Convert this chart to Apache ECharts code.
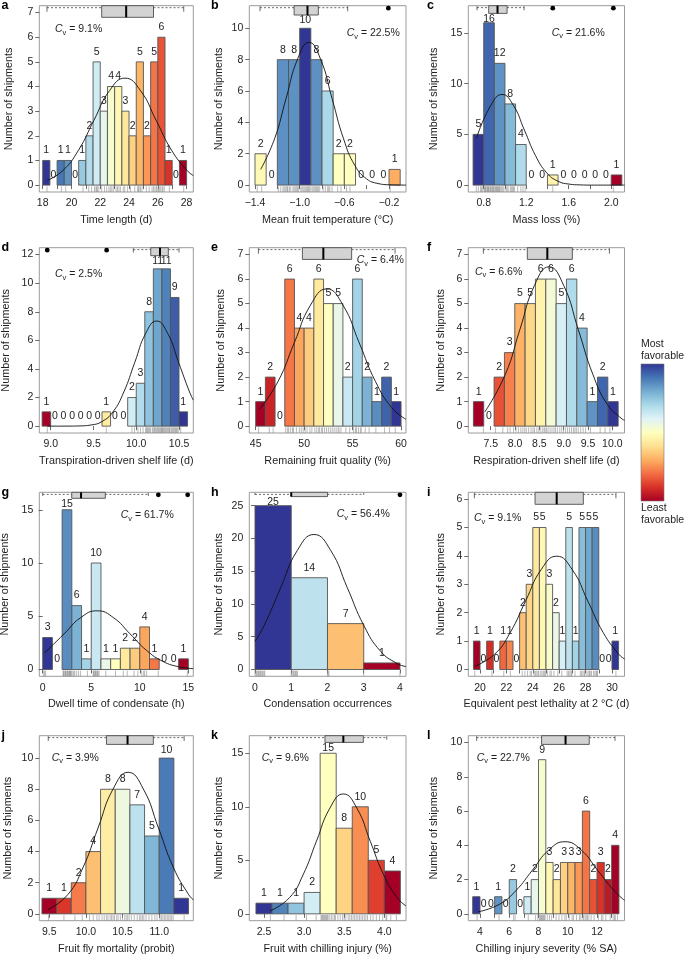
<!DOCTYPE html>
<html><head><meta charset="utf-8">
<script src="https://cdn.jsdelivr.net/npm/echarts@6/dist/echarts.min.js"></script>
<style>html,body{margin:0;padding:0;background:#fff}#c{width:685px;height:956px}</style>
</head><body><div id="c"></div>
<script>
// ---------------- DATA ----------------
// a: Time length (d)
const a_start = 18, a_binWidth = 0.5;
const a_counts = [1,0,1,1,0,1,2,5,3,4,4,3,2,5,2,5,6,1,0,1];
const a_curve = [[18.32,0.19],[19.40,0.59],[20.48,1.41],[21.56,2.63],[22.64,3.83],[23.72,4.34],[24.80,3.83],[25.88,2.63],[26.96,1.41],[28.04,0.59],[28.46,0.39]];
const a_box = [18.3,22.1,23.8,25.7,27.8];
const a_outliers = [];
const a_rug = [18.3,19.3,19.6,20.8,21.2,21.4,21.6,21.7,21.75,21.8,21.9,22.1,22.3,22.45,22.6,22.7,22.8,22.9,23.1,23.2,23.3,23.4,23.6,23.7,23.9,24.1,24.4,24.6,24.65,24.7,24.8,24.9,25.2,25.4,25.6,25.7,25.8,25.9,25.95,26.05,26.1,26.2,26.3,26.35,26.45,26.8,27.8];
const a_xticks = [18,19,20,21,22,23,24,25,26,27,28];
const a_xlabels = [18,20,22,24,26,28];
const a_yticks = [0,1,2,3,4,5,6,7];
const a_cv = '9.1%';
const a_title = 'Time length (d)';

// b: Mean fruit temperature
const b_start = -1.4, b_binWidth = 0.1;
const b_counts = [2,0,8,8,10,8,6,2,2,0,0,0,1];
const b_curve = [[-1.349,1.00],[-1.225,2.95],[-1.122,5.52],[-1.019,8.03],[-0.916,9.10],[-0.813,8.03],[-0.710,5.52],[-0.607,2.95],[-0.504,1.23],[-0.401,0.40],[-0.298,0.10],[-0.195,0.02],[-0.048,0.0]];
const b_box = [-1.355,-1.05,-0.93,-0.833,-0.57];
const b_outliers = [-0.206];
const b_rug = [-1.38,-1.34,-1.19,-1.17,-1.15,-1.14,-1.13,-1.12,-1.11,-1.105,-1.09,-1.08,-1.06,-1.05,-1.04,-1.03,-1.02,-1.01,-0.99,-0.98,-0.97,-0.96,-0.95,-0.94,-0.93,-0.92,-0.915,-0.905,-0.89,-0.88,-0.87,-0.86,-0.85,-0.84,-0.83,-0.82,-0.79,-0.77,-0.75,-0.74,-0.73,-0.71,-0.66,-0.63,-0.58,-0.55,-0.19];
const b_xticks = [-1.4,-1.2,-1.0,-0.8,-0.6,-0.4,-0.2];
const b_xlabels = [-1.4,-1.0,-0.6,-0.2];
const b_yticks = [0,2,4,6,8,10];
const b_cv = '22.5%';
const b_title = 'Mean fruit temperature (°C)';

// c: Mass loss
const c_start = 0.7, c_binWidth = 0.1;
const c_counts = [5,16,12,8,4,0,0,1,0,0,0,0,0,1];
const c_curve = [[0.731,4.60],[0.868,7.88],[0.973,8.93],[1.078,7.88],[1.183,5.42],[1.288,2.90],[1.393,1.21],[1.498,0.39],[1.603,0.10],[1.708,0.02],[1.813,0.0],[2.125,0.0]];
const c_box = [0.737,0.847,0.93,1.02,1.18];
const c_outliers = [1.45,2.02];
const c_rug = [0.73,0.75,0.77,0.78,0.79,0.805,0.81,0.815,0.82,0.83,0.835,0.84,0.845,0.85,0.86,0.865,0.87,0.88,0.885,0.89,0.895,0.905,0.91,0.92,0.925,0.93,0.94,0.945,0.95,0.96,0.97,0.98,0.99,1.01,1.02,1.03,1.05,1.06,1.07,1.08,1.09,1.12,1.15,1.17,1.19,1.45,2.02];
const c_xticks = [0.8,1.0,1.2,1.4,1.6,1.8,2.0];
const c_xlabels = [0.8,1.2,1.6,2.0];
const c_yticks = [0,5,10,15];
const c_cv = '21.6%';
const c_title = 'Mass loss (%)';

// d: Transpiration-driven shelf life
const d_start = 8.9, d_binWidth = 0.1;
const d_counts = [1,0,0,0,0,0,0,1,0,0,2,3,8,11,11,9,1];
const d_curve = [[8.96,0],[9.215,0.002],[9.343,0.016],[9.471,0.08],[9.599,0.32],[9.727,0.99],[9.855,2.39],[9.983,4.46],[10.111,6.49],[10.239,7.35],[10.367,6.49],[10.495,4.46],[10.623,2.39],[10.667,1.82]];
const d_box = [9.966,10.17,10.278,10.375,10.5];
const d_outliers = [8.96,9.654];
const d_rug = [8.96,9.65,9.95,9.98,10.02,10.05,10.08,10.11,10.12,10.13,10.14,10.15,10.16,10.17,10.19,10.205,10.21,10.22,10.23,10.24,10.25,10.26,10.27,10.28,10.29,10.295,10.305,10.31,10.32,10.33,10.34,10.35,10.36,10.37,10.38,10.39,10.395,10.41,10.42,10.43,10.44,10.45,10.46,10.47,10.48,10.49,10.52];
const d_xticks = [9.0,9.5,10.0,10.5];
const d_xlabels = [9.0,9.5,10.0,10.5];
const d_yticks = [0,2,4,6,8,10,12];
const d_cv = '2.5%';
const d_title = 'Transpiration-driven shelf life (d)';

// e: Remaining fruit quality
const e_start = 45, e_binWidth = 1;
const e_counts = [1,2,0,6,4,4,6,5,5,2,6,2,1,2,1];
const e_curve = [[45.38,0.68],[47.30,1.82],[48.98,3.40],[50.66,4.94],[52.33,5.60],[54.00,4.94],[55.68,3.40],[57.36,1.82],[59.03,0.76],[60.5,0.28]];
const e_box = [45.28,49.82,51.98,54.9,59.38];
const e_outliers = [];
const e_rug = [45.3,46.4,46.8,48.1,48.3,48.4,48.6,48.8,48.9,49.2,49.5,49.7,49.9,50.1,50.3,50.6,50.8,51.1,51.3,51.5,51.6,51.8,51.9,52.1,52.3,52.5,52.7,52.9,53.1,53.3,53.5,53.6,53.8,54.3,54.7,55.1,55.3,55.4,55.6,55.8,55.9,56.3,56.7,57.4,58.3,58.8,59.4];
const e_xticks = [45,50,55,60];
const e_xlabels = [45,50,55,60];
const e_yticks = [0,1,2,3,4,5,6,7];
const e_cv = '6.4%';
const e_title = 'Remaining fruit quality (%)';

// f: Respiration-driven shelf life
const f_start = 7.145, f_binWidth = 0.2125;
const f_counts = [1,0,2,3,5,5,6,6,5,6,4,1,2,1];
const f_curve = [[7.38,0.58],[7.80,2.11],[8.10,3.94],[8.40,5.74],[8.70,6.50],[9.00,5.74],[9.30,3.94],[9.60,2.11],[9.90,0.88],[10.20,0.29],[10.25,0.24]];
const f_box = [7.35,8.253,8.664,9.178,9.94];
const f_outliers = [];
const f_rug = [7.35,7.6,7.75,7.85,7.9,7.97,8.02,8.07,8.12,8.16,8.2,8.23,8.28,8.33,8.37,8.4,8.45,8.49,8.53,8.57,8.6,8.62,8.65,8.68,8.72,8.76,8.8,8.83,8.87,8.92,8.96,9.0,9.04,9.08,9.12,9.16,9.2,9.23,9.26,9.3,9.35,9.4,9.45,9.55,9.75,9.85,9.95];
const f_xticks = [7.5,8.0,8.5,9.0,9.5,10.0];
const f_xlabels = [7.5,8.0,8.5,9.0,9.5,10.0];
const f_yticks = [0,1,2,3,4,5,6,7];
const f_cv = '6.6%';
const f_title = 'Respiration-driven shelf life (d)';

// g: Dwell time of condensate
const g_start = 0, g_binWidth = 1;
const g_counts = [3,0,15,6,1,10,1,1,2,2,4,1,0,0,1];
const g_curve = [[0.2,1.56],[2.2,3.34],[3.9,4.86],[5.6,5.51],[7.3,4.86],[9.0,3.34],[10.7,1.79],[12.4,0.75],[14.1,0.24],[15.5,0.08]];
const g_box = [0,2.99,3.95,6.45,10.88];
const g_outliers = [11.91,14.93];
const g_rug = [0.1,0.2,0.3,2.1,2.15,2.2,2.3,2.35,2.4,2.5,2.55,2.6,2.7,2.75,2.8,2.85,2.9,2.95,3.1,3.2,3.3,3.5,3.7,3.9,4.6,5.2,5.25,5.3,5.4,5.45,5.5,5.6,5.65,5.7,5.8,6.5,7.5,8.3,8.7,9.4,9.8,10.2,10.4,10.5,10.7,11.9,14.9];
const g_xticks = [0,5,10,15];
const g_xlabels = [0,5,10,15];
const g_yticks = [0,5,10,15];
const g_cv = '61.7%';
const g_title = 'Dwell time of condensate (h)';

// h: Condensation occurrences
const h_start = 0, h_binWidth = 1;
const h_counts = [25,14,7,1];
const h_curve = [[0,4.28],[0.251,6.69],[0.710,12.49],[1.169,18.18],[1.628,20.6],[2.087,18.18],[2.546,12.49],[3.005,6.69],[3.464,2.79],[3.923,0.90],[4.166,0.45]];
const h_box = [0,1,1,2,3];
const h_outliers = [4];
const h_rug = [0,0.03,0.05,0.08,0.1,0.12,0.15,0.17,0.2,0.22,0.25,0.27,1.0,1.02,1.05,1.07,1.1,1.12,1.15,1.17,2.0,2.02,2.04,3.0,4.0];
const h_xticks = [0,1,2,3,4];
const h_xlabels = [0,1,2,3,4];
const h_yticks = [0,5,10,15,20,25];
const h_cv = '56.4%';
const h_title = 'Condensation occurrences';

// i: Equivalent pest lethality at 2 °C
const i_start = 19.5, i_binWidth = 0.5;
const i_counts = [1,0,1,0,1,1,0,2,3,5,5,3,2,1,5,1,5,5,5,0,0,1];
const i_curve = [[19.62,0.12],[21.11,0.54],[22.285,1.30],[23.46,2.42],[24.635,3.52],[25.81,3.99],[26.985,3.52],[28.16,2.42],[29.335,1.30],[30.51,0.54],[30.95,0.37]];
const i_box = [19.57,24.17,25.81,27.83,30.3];
const i_outliers = [];
const i_rug = [19.6,20.9,21.8,22.3,23.2,23.4,23.6,23.8,23.9,24.1,24.2,24.3,24.4,24.45,24.6,24.7,24.8,24.9,24.95,25.1,25.3,25.4,25.6,25.9,26.2,26.6,26.7,26.8,26.9,26.95,27.2,27.6,27.7,27.8,27.9,27.95,28.1,28.2,28.3,28.35,28.45,28.6,28.7,28.8,28.85,28.9,30.3];
const i_xticks = [20,21,22,23,24,25,26,27,28,29,30];
const i_xlabels = [20,22,24,26,28,30];
const i_yticks = [0,1,2,3,4,5,6];
const i_cv = '9.1%';
const i_title = 'Equivalent pest lethality at 2 °C (d)';

// j: Fruit fly mortality
const j_start = 9.4, j_binWidth = 0.2;
const j_counts = [1,1,2,4,8,8,7,5,10,1];
const j_curve = [[9.486,0.28],[9.752,1.23],[9.958,2.95],[10.165,5.51],[10.371,8.02],[10.577,9.09],[10.783,8.02],[10.990,5.51],[11.196,2.95],[11.402,1.23],[11.465,0.90]];
const j_box = [9.486,10.28,10.568,10.92,11.34];
const j_outliers = [];
const j_rug = [9.49,9.7,9.85,9.95,10.05,10.1,10.15,10.18,10.22,10.25,10.28,10.3,10.33,10.35,10.37,10.39,10.42,10.44,10.47,10.5,10.53,10.55,10.57,10.59,10.62,10.66,10.7,10.73,10.75,10.77,10.79,10.82,10.86,10.9,10.94,10.97,11.01,11.03,11.05,11.07,11.09,11.11,11.13,11.15,11.17,11.19,11.34];
const j_xticks = [9.5,10.0,10.5,11.0];
const j_xlabels = [9.5,10.0,10.5,11.0];
const j_yticks = [0,2,4,6,8,10];
const j_cv = '3.9%';
const j_title = 'Fruit fly mortality (probit)';

// k: Fruit with chilling injury
const k_start = 2.4, k_binWidth = 0.2;
const k_counts = [1,1,1,2,15,8,10,5,4];
const k_curve = [[2.575,0.27],[2.819,1.52],[2.987,3.64],[3.154,6.79],[3.322,9.88],[3.489,11.2],[3.657,9.88],[3.824,6.79],[3.992,3.64],[4.159,1.52],[4.27,0.74]];
const k_box = [2.575,3.26,3.489,3.738,4.03];
const k_outliers = [];
const k_rug = [2.58,2.75,2.9,3.03,3.15,3.21,3.22,3.23,3.24,3.25,3.26,3.27,3.28,3.29,3.3,3.32,3.34,3.36,3.38,3.39,3.42,3.45,3.48,3.5,3.52,3.55,3.57,3.59,3.61,3.63,3.65,3.67,3.69,3.71,3.73,3.75,3.77,3.79,3.83,3.86,3.9,3.94,3.98,4.02,4.03,4.08,4.15];
const k_xticks = [2.5,3.0,3.5,4.0];
const k_xlabels = [2.5,3.0,3.5,4.0];
const k_yticks = [0,5,10,15];
const k_cv = '9.6%';
const k_title = 'Fruit with chilling injury (%)';

// l: Chilling injury severity
const l_start = 3.5, l_binWidth = 0.5;
const l_counts = [1,0,0,1,0,2,0,1,2,9,3,2,3,3,3,6,2,3,2,4];
const l_curve = [[3.886,0.12],[5.356,0.57],[6.47,1.37],[7.583,2.55],[8.697,3.72],[9.81,4.21],[10.924,3.72],[12.037,2.55],[13.15,1.37],[13.88,0.79]];
const l_box = [3.77,8.21,9.85,11.47,13.23];
const l_outliers = [];
const l_rug = [3.8,5.3,6.3,6.4,7.3,7.8,7.95,8.05,8.1,8.15,8.2,8.25,8.3,8.35,8.4,8.45,8.6,8.75,8.9,9.2,9.4,9.6,9.8,9.9,10.1,10.3,10.4,10.6,10.8,10.9,11.05,11.1,11.2,11.3,11.35,11.45,11.6,11.8,12.1,12.3,12.4,12.6,12.9,13.1,13.2,13.25,13.4];
const l_xticks = [4,5,6,7,8,9,10,11,12,13];
const l_xlabels = [4,6,8,10,12];
const l_yticks = [0,2,4,6,8,10];
const l_cv = '22.7%';
const l_title = 'Chilling injury severity (% SA)';

const yAxisTitle = 'Number of shipments';
const legendTop = 'Most\nfavorable';
const legendBottom = 'Least\nfavorable';

// ---------------- STYLE / LAYOUT ----------------
const FONT = '"Liberation Sans", Arial, Helvetica, sans-serif';
const PAL = ['#a50026','#d73027','#f46d43','#fdae61','#fee090','#ffffbf','#e0f3f8','#abd9e9','#74add1','#4575b4','#313695'];
function h2r(h){return [parseInt(h.slice(1,3),16),parseInt(h.slice(3,5),16),parseInt(h.slice(5,7),16)];}
function colorAt(t){
  t = Math.max(0, Math.min(1, t));
  const p = t*10; let i = Math.floor(p); if (i > 9) i = 9; const f = p - i;
  const a = h2r(PAL[i]), b = h2r(PAL[i+1]);
  return 'rgb(' + a.map((v,k)=>Math.round(v + (b[k]-v)*f)).join(',') + ')';
}
const COL_L = [39.3, 249.3, 468.3], COL_W = [154, 156.7, 156.2];
const ROW_T = [5.7, 247.7, 492.3, 735.7], ROW_H = [186.3, 185.3, 184, 185];
const LETTER_X = [1.5, 211, 427];

const panels = [
 {id:'a',start:a_start,w:a_binWidth,counts:a_counts,curve:a_curve,box:a_box,out:a_outliers,rug:a_rug,xt:a_xticks,xl:a_xlabels,yt:a_yticks,cv:a_cv,title:a_title,
  col:0,row:0,xlim:[17.764,28.465],dec:0,tone:'low',boxH:11.6,cvPos:[15.7,23.6],ytX:9.5},
 {id:'b',start:b_start,w:b_binWidth,counts:b_counts,curve:b_curve,box:b_box,out:b_outliers,rug:b_rug,xt:b_xticks,xl:b_xlabels,yt:b_yticks,cv:b_cv,title:b_title,
  col:1,row:0,xlim:[-1.451,-0.048],dec:1,tone:[0.48,0.5,0.85,0.85,1,0.85,0.7,0.5,0.5,0.5,0.5,0.5,0.3],boxH:9.3,cvPos:[97.4,27.6],ytX:219},
 {id:'c',start:c_start,w:c_binWidth,counts:c_counts,curve:c_curve,box:c_box,out:c_outliers,rug:c_rug,xt:c_xticks,xl:c_xlabels,yt:c_yticks,cv:c_cv,title:c_title,
  col:2,row:0,xlim:[0.655,2.125],dec:1,tone:'low',boxH:7.7,cvPos:[83.4,27],ytX:434},
 {id:'d',start:d_start,w:d_binWidth,counts:d_counts,curve:d_curve,box:d_box,out:d_outliers,rug:d_rug,xt:d_xticks,xl:d_xlabels,yt:d_yticks,cv:d_cv,title:d_title,
  col:0,row:1,xlim:[8.867,10.667],dec:1,tone:'high',boxH:8,cvPos:[15.7,26.6],ytX:6},
 {id:'e',start:e_start,w:e_binWidth,counts:e_counts,curve:e_curve,box:e_box,out:e_outliers,rug:e_rug,xt:e_xticks,xl:e_xlabels,yt:e_yticks,cv:e_cv,title:e_title,
  col:1,row:1,xlim:[44.34,60.51],dec:0,tone:'high',boxH:11.7,cvPos:[107.4,12.3],ytX:221},
 {id:'f',start:f_start,w:f_binWidth,counts:f_counts,curve:f_curve,box:f_box,out:f_outliers,rug:f_rug,xt:f_xticks,xl:f_xlabels,yt:f_yticks,cv:f_cv,title:f_title,
  col:2,row:1,xlim:[7.04,10.25],dec:1,tone:'high',boxH:11.7,cvPos:[6.7,24],ytX:441},
 {id:'g',start:g_start,w:g_binWidth,counts:g_counts,curve:g_curve,box:g_box,out:g_outliers,rug:g_rug,xt:g_xticks,xl:g_xlabels,yt:g_yticks,cv:g_cv,title:g_title,
  col:0,row:2,xlim:[-0.35,15.51],dec:0,tone:'low',boxH:6,cvPos:[81.4,22.7],ytX:5.5},
 {id:'h',start:h_start,w:h_binWidth,counts:h_counts,curve:h_curve,box:h_box,out:h_outliers,rug:h_rug,xt:h_xticks,xl:h_xlabels,yt:h_yticks,cv:h_cv,title:h_title,
  col:1,row:2,xlim:[-0.157,4.166],dec:0,tone:'low',boxH:4.3,cvPos:[87.4,22],ytX:219},
 {id:'i',start:i_start,w:i_binWidth,counts:i_counts,curve:i_curve,box:i_box,out:i_outliers,rug:i_rug,xt:i_xticks,xl:i_xlabels,yt:i_yticks,cv:i_cv,title:i_title,
  col:2,row:2,xlim:[19.11,30.95],dec:0,tone:'high',boxH:12,cvPos:[5.7,26],ytX:441},
 {id:'j',start:j_start,w:j_binWidth,counts:j_counts,curve:j_curve,box:j_box,out:j_outliers,rug:j_rug,xt:j_xticks,xl:j_xlabels,yt:j_yticks,cv:j_cv,title:j_title,
  col:0,row:3,xlim:[9.364,11.465],dec:1,tone:'high',boxH:8.7,cvPos:[12.4,22],ytX:8},
 {id:'k',start:k_start,w:k_binWidth,counts:k_counts,curve:k_curve,box:k_box,out:k_outliers,rug:k_rug,xt:k_xticks,xl:k_xlabels,yt:k_yticks,cv:k_cv,title:k_title,
  col:1,row:3,xlim:[2.317,4.27],dec:1,tone:'low',boxH:6.7,cvPos:[12.4,22],ytX:219},
 {id:'l',start:l_start,w:l_binWidth,counts:l_counts,curve:l_curve,box:l_box,out:l_outliers,rug:l_rug,xt:l_xticks,xl:l_xlabels,yt:l_yticks,cv:l_cv,title:l_title,
  col:2,row:3,xlim:[3.2,13.88],dec:0,tone:'low',boxH:8.7,cvPos:[8.4,22],ytX:434}
];

const TXT = '#1e1e1e';
const grids = [], xAxes = [], yAxes = [], series = [], graphics = [];

panels.forEach((p, k) => {
  const left = COL_L[p.col], top = ROW_T[p.row], width = COL_W[p.col], height = ROW_H[p.row];
  const n = p.counts.length;
  const hi = Math.max(...p.counts) + 1;
  const colors = p.counts.map((c, i) => {
    let t;
    if (Array.isArray(p.tone)) t = p.tone[i];
    else if (p.tone === 'low') t = 1 - i/(n-1);
    else t = i/(n-1);
    return colorAt(t);
  });
  grids.push({left, top, width, height, show:true, borderColor:'#9b9b9b', borderWidth:1, containLabel:false, outerBoundsMode:'none'});
  const dec = p.dec;
  xAxes.push({gridIndex:k, type:'value', min:p.xlim[0], max:p.xlim[1],
    axisLine:{show:false},
    axisTick:{show:true, customValues:p.xt, length:4, lineStyle:{color:'#444', width:0.8}},
    axisLabel:{customValues:p.xl, margin:6, fontSize:10.5, fontFamily:FONT, color:TXT,
      formatter:v => Number(v).toFixed(dec).replace('-', '\u2212')},
    splitLine:{show:false}});
  yAxes.push({gridIndex:k, type:'value', min:-0.04*hi, max:1.04*hi,
    axisLine:{show:false},
    axisTick:{show:true, customValues:p.yt, length:4, lineStyle:{color:'#444', width:0.8}},
    axisLabel:{customValues:p.yt, margin:6, fontSize:10.5, fontFamily:FONT, color:TXT},
    splitLine:{show:false}});

  const binData = p.counts.map((c, i) => [p.start + i*p.w, p.start + (i+1)*p.w, c, i]);
  const boxH = p.boxH;
  // rug
  series.push({type:'custom', xAxisIndex:k, yAxisIndex:k, coordinateSystem:'cartesian2d', silent:true, z:1,
    data:p.rug.map(v => [v, 0]), encode:{x:0, y:1},
    renderItem:(params, api) => {
      const pt = api.coord([api.value(0), 0]);
      const bottom = params.coordSys.y + params.coordSys.height;
      return {type:'line', shape:{x1:pt[0], y1:pt[1]+1.2, x2:pt[0], y2:bottom}, style:{stroke:'#8a8a8a', lineWidth:0.6}};
    }});
  // bars
  series.push({type:'custom', xAxisIndex:k, yAxisIndex:k, coordinateSystem:'cartesian2d', silent:true, z:2,
    data:binData, encode:{x:[0,1], y:2},
    renderItem:(params, api) => {
      const c = api.value(2); if (!(c > 0)) return null;
      const a = api.coord([api.value(0), 0]), b = api.coord([api.value(1), c]);
      return {type:'rect', shape:{x:a[0], y:b[1], width:b[0]-a[0], height:a[1]-b[1]},
        style:{fill:colors[api.value(3)], stroke:'#555', lineWidth:0.9}};
    }});
  // normal curve
  series.push({type:'line', xAxisIndex:k, yAxisIndex:k, data:p.curve, smooth:0.5, symbol:'none', silent:true, z:3,
    lineStyle:{color:'#111', width:0.9}});
  // count labels (kept just below the boxplot strip when the bar is tall)
  series.push({type:'custom', xAxisIndex:k, yAxisIndex:k, coordinateSystem:'cartesian2d', silent:true, z:4,
    data:binData, encode:{x:[0,1], y:2},
    renderItem:(params, api) => {
      const c = api.value(2);
      const a = api.coord([api.value(0), 0]), b = api.coord([api.value(1), c]);
      const yb = Math.max(b[1] - 4.5, params.coordSys.y + boxH + 11);
      return {type:'text', style:{text:String(c), x:(a[0]+b[0])/2, y:yb, align:'center', verticalAlign:'bottom',
        textAlign:'center', textVerticalAlign:'bottom', fontSize:10.5, fontFamily:FONT, fill:TXT}};
    }});
  // boxplot at the top of the frame
  series.push({type:'custom', xAxisIndex:k, yAxisIndex:k, coordinateSystem:'cartesian2d', silent:true, z:5,
    data:[p.box.concat([0])], encode:{x:[0,1,2,3,4], y:5},
    renderItem:(params, api) => {
      const X = d => api.coord([api.value(d), 0])[0];
      const y0 = params.coordSys.y, wy = y0 + 2;
      const lo = X(0), q1 = X(1), md = X(2), q3 = X(3), hiX = X(4);
      const dash = {stroke:'#444', lineWidth:0.8, lineDash:[2,2]};
      return {type:'group', children:[
        {type:'line', shape:{x1:lo, y1:wy, x2:q1, y2:wy}, style:dash},
        {type:'line', shape:{x1:q3, y1:wy, x2:hiX, y2:wy}, style:dash},
        {type:'line', shape:{x1:lo, y1:y0+0.5, x2:lo, y2:y0+Math.min(6, boxH*0.6)}, style:{stroke:'#444', lineWidth:0.8}},
        {type:'line', shape:{x1:hiX, y1:y0+0.5, x2:hiX, y2:y0+Math.min(6, boxH*0.6)}, style:{stroke:'#444', lineWidth:0.8}},
        {type:'rect', shape:{x:q1, y:y0, width:q3-q1, height:boxH}, style:{fill:'#d3d3d3', stroke:'#4d4d4d', lineWidth:0.9}},
        {type:'line', shape:{x1:md, y1:y0, x2:md, y2:y0+boxH}, style:{stroke:'#000', lineWidth:2}}
      ]};
    }});
  // outliers
  series.push({type:'custom', xAxisIndex:k, yAxisIndex:k, coordinateSystem:'cartesian2d', silent:true, z:6,
    data:p.out.map(v => [v, 0]), encode:{x:0, y:1},
    renderItem:(params, api) => {
      const pt = api.coord([api.value(0), 0]);
      return {type:'circle', shape:{cx:pt[0], cy:params.coordSys.y + 2.5, r:2.4}, style:{fill:'#000'}};
    }});

  // texts
  graphics.push({type:'text', x:LETTER_X[p.col], y:top, style:{text:p.id, fontSize:12.5, fontWeight:'bold', fontFamily:FONT, fill:'#000',
    align:'left', verticalAlign:'middle', textAlign:'left', textVerticalAlign:'middle'}});
  graphics.push({type:'text', x:left + width/2, y:top + height + 28, style:{text:p.title, fontSize:10.8, fontFamily:FONT, fill:TXT,
    align:'center', verticalAlign:'middle', textAlign:'center', textVerticalAlign:'middle'}});
  graphics.push({type:'text', x:p.ytX, y:top + height/2, rotation:Math.PI/2, style:{text:yAxisTitle, fontSize:10.8, fontFamily:FONT, fill:TXT,
    align:'center', verticalAlign:'middle', textAlign:'center', textVerticalAlign:'middle'}});
  graphics.push({type:'text', x:left + p.cvPos[0], y:top + p.cvPos[1], style:{
    text:'{c|C}{s|v}{t| = ' + p.cv + '}',
    rich:{c:{fontSize:10.5, fontStyle:'italic', fontFamily:FONT, fill:TXT},
          s:{fontSize:7.5, fontFamily:FONT, fill:TXT, padding:[7,0,0,0]},
          t:{fontSize:10.5, fontFamily:FONT, fill:TXT}},
    align:'left', verticalAlign:'middle', textAlign:'left', textVerticalAlign:'middle'}});
});

// colour legend
const stops = PAL.slice().reverse().map((c, i) => ({offset:i/10, color:c}));
graphics.push({type:'rect', shape:{x:641, y:364, width:23, height:137},
  style:{fill:{type:'linear', x:0, y:0, x2:0, y2:1, colorStops:stops}, stroke:'#777', lineWidth:0.6}});
graphics.push({type:'text', x:641, y:350, style:{text:legendTop, fontSize:10.5, fontFamily:FONT, fill:TXT, lineHeight:12,
  align:'left', verticalAlign:'middle', textAlign:'left', textVerticalAlign:'middle'}});
graphics.push({type:'text', x:641, y:514, style:{text:legendBottom, fontSize:10.5, fontFamily:FONT, fill:TXT, lineHeight:12,
  align:'left', verticalAlign:'middle', textAlign:'left', textVerticalAlign:'middle'}});

const chart = echarts.init(document.getElementById('c'), null, {renderer:'canvas'});
chart.setOption({animation:false, backgroundColor:'#fff', grid:grids, xAxis:xAxes, yAxis:yAxes, series, graphic:graphics});
</script></body></html>
